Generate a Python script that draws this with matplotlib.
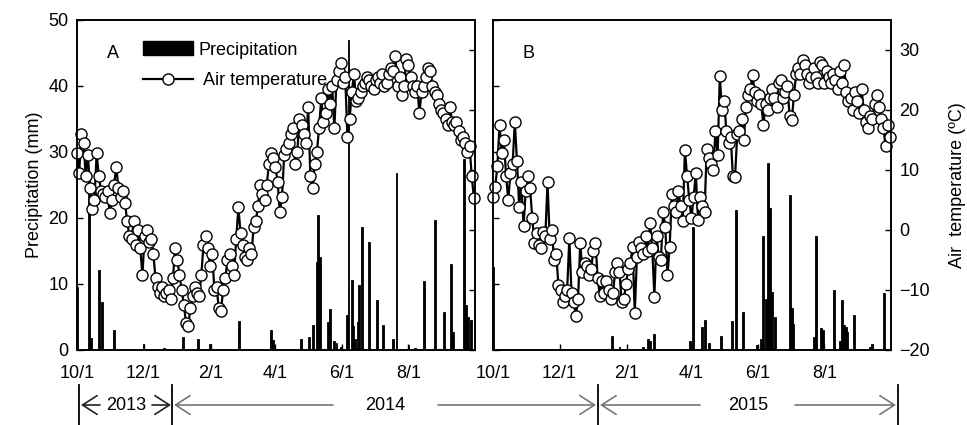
import numpy as np
import matplotlib
matplotlib.use('Agg')
import matplotlib.pyplot as plt
from matplotlib.lines import Line2D
from matplotlib.patches import Patch, FancyArrowPatch

plt.rcParams['font.family'] = ['Liberation Sans', 'DejaVu Sans']
plt.rcParams['font.size'] = 13

# Daily air temperature (every 2nd day from 1 Oct), degC
temp_a = [12.8, 9.5, 16.0, 14.5, 9.0, 12.5, 7.0, 3.5, 5.0, 12.8,
          9.0, 6.5, 6.0, 5.5, 6.5, 2.8, 5.0, 7.5, 10.5, 7.0,
          5.5, 6.5, 4.5, 1.5, -1.0, -1.5, 1.5, -2.5, 0.0, -3.0,
          -7.5, -1.0, 0.0, -2.0, -1.5, -4.0, -8.0, -9.5, -10.5, -9.5,
          -11.0, -10.5, -10.0, -11.5, -8.0, -3.0, -5.0, -7.5, -10.0, -12.5,
          -15.5, -16.0, -13.0, -11.0, -9.5, -10.5, -11.0, -7.5, -2.5, -1.0,
          -3.0, -6.0, -4.0, -10.0, -9.5, -13.0, -13.5, -10.0, -8.0, -5.0,
          -4.0, -6.0, -7.5, -1.5, 3.8, -0.5, -2.5, -4.5, -5.0, -3.0,
          -4.0, 0.5, 1.5, 4.0, 7.5, 6.0, 5.0, 7.5, 11.0, 12.8,
          12.0, 10.5, 8.0, 3.0, 5.5, 12.5, 13.5, 14.5, 16.0, 17.0,
          11.0, 13.0, 18.5, 17.5, 16.0, 14.5, 20.5, 9.0, 7.0, 11.0,
          13.0, 17.0, 22.0, 18.0, 19.5, 23.5, 21.0, 24.0, 17.0, 25.0,
          26.5, 27.8, 24.5, 25.5, 15.5, 18.5, 23.0, 26.0, 21.5, 22.0,
          23.0, 24.0, 24.5, 25.5, 25.0, 24.0, 23.5, 25.0, 25.5, 24.5,
          26.0, 24.0, 24.5, 26.0, 27.0, 26.5, 29.0, 24.0, 25.5, 22.5,
          24.0, 28.5, 27.5, 25.5, 24.0, 23.0, 24.0, 19.5, 23.0, 24.0,
          25.5, 27.0, 26.5, 24.0, 23.0, 22.5, 21.0, 20.0, 19.5, 18.5,
          17.5, 20.5, 18.0, 17.5, 18.0, 16.5, 15.0, 15.5, 14.5, 13.0,
          14.0, 9.0, 5.3]

temp_b = [5.5, 7.2, 10.6, 17.5, 12.8, 15.0, 9.0, 5.0, 9.5, 11.0,
          18.0, 11.5, 3.9, 8.0, 0.6, 6.5, 9.0, 7.0, 2.0, -2.2,
          -0.5, -2.5, -3.0, -0.3, -1.0, 8.0, -1.5, 0.0, -5.0, -4.0,
          -9.2, -10.0, -12.0, -11.0, -10.0, -1.4, -10.5, -12.0, -14.4, -11.5,
          -2.2, -7.0, -5.5, -6.0, -7.5, -6.5, -3.5, -2.2, -8.0, -11.0,
          -8.5, -10.5, -8.5, -10.0, -11.5, -10.5, -7.0, -5.5, -7.0, -12.0,
          -11.5, -9.0, -6.5, -5.5, -2.8, -13.9, -4.5, -2.0, -3.0, -4.0,
          -1.0, -3.5, 1.1, -3.0, -11.1, -1.0, -4.5, -5.0, 3.0, 0.5,
          -7.5, -2.8, 6.0, 4.0, 3.0, 6.5, 4.0, 1.5, 13.3, 9.0,
          5.0, 2.0, 5.5, 9.5, 1.7, 5.5, 4.0, 3.0, 13.5, 12.0,
          11.0, 10.0, 16.5, 12.5, 25.6, 20.0, 21.5, 16.5, 14.5, 15.5,
          9.0, 8.9, 16.0, 16.5, 18.5, 15.0, 20.5, 22.5, 23.5, 25.8,
          23.0, 21.5, 22.5, 21.0, 17.5, 21.0, 20.0, 22.0, 23.5, 22.0,
          20.5, 24.5, 25.0, 22.0, 23.0, 24.0, 19.0, 18.3, 22.5, 26.0,
          27.0, 26.0, 28.3, 27.5, 26.0, 24.5, 25.5, 27.0, 25.5, 24.5,
          28.0, 27.5, 24.5, 26.5, 25.5, 24.5, 26.0, 25.0, 23.5, 26.5,
          24.5, 27.5, 23.0, 21.5, 22.0, 20.0, 23.0, 21.5, 19.5, 23.5,
          20.0, 18.0, 17.0, 19.0, 18.5, 21.0, 22.5, 20.5, 18.5, 17.0,
          14.0, 17.5, 15.5]

# Precipitation events: day after 1 Oct, mm
precip_a_day = [0, 11, 13, 20, 23, 34, 61, 80, 97, 111,
                122, 149, 178, 180, 205, 213, 216, 220, 221, 223,
                230, 232, 236, 238, 242, 248, 249, 252, 253, 255,
                258, 259, 261, 268, 275, 281, 290, 293, 304, 310,
                318, 328, 337, 343, 345, 355, 357, 359, 361]
precip_a = [9.6, 27, 1.8, 12.1, 7.3, 3, 0.9, 0.3, 2, 1.6,
            0.9, 4.4, 3, 1.5, 1.6, 2, 3.8, 13.4, 20.5, 14.1,
            4.3, 6.2, 1.4, 1, 0.5, 5.3, 47, 10.6, 3.6, 1.6,
            4.3, 9.8, 18.7, 16.4, 7.6, 3.8, 1.6, 26.8, 0.8, 0.3,
            10.5, 19.7, 5.7, 13.1, 2.8, 29, 6.8, 5, 4.5]

precip_b_day = [0, 109, 116, 138, 142, 144, 148, 181, 183, 192,
                194, 198, 209, 219, 223, 229, 242, 246, 248, 250,
                252, 254, 256, 259, 272, 274, 275, 294, 296, 301,
                303, 313, 318, 320, 322, 324, 325, 331, 346, 348, 359]
precip_b = [12.6, 2.1, 0.4, 0.5, 1.6, 1.3, 2.4, 1.3, 18.7, 3.5,
            4.5, 1, 2.1, 4.4, 21.2, 5.8, 0.8, 1.6, 17.2, 7.8,
            28.3, 21.5, 8.8, 5, 23.5, 6.3, 4, 2, 17.2, 3.3,
            3, 9.1, 1.4, 7.6, 3.8, 3.5, 2.8, 5.3, 0.5, 0.9, 8.7]

month_ticks = [0, 61, 123, 182, 243, 304]
month_labels = ['10/1', '12/1', '2/1', '4/1', '6/1', '8/1']

W, H = 967, 425
fig = plt.figure(figsize=(W / 100, H / 100), dpi=100)


def px(x, y):
    return x / W, 1 - y / H


def panel(left, temp, pday, prec, letter, first):
    ax = fig.add_axes([left / W, 1 - 350 / H, 398 / W, 330 / H])
    ax.bar(pday, prec, width=1.8, color='black', edgecolor='black',
           linewidth=0.6, align='center')
    ax.set_xlim(0, 365)
    ax.set_ylim(0, 50)
    ax.set_yticks(range(0, 51, 10))
    ax.set_xticks(month_ticks)
    ax.set_xticklabels(month_labels)
    ax.tick_params(direction='in', length=4, width=1, pad=6)
    ax.tick_params(axis='x', pad=11)
    ax2 = ax.twinx()
    days = np.arange(len(temp)) * 2
    ax2.plot(days, temp, '-o', color='black', lw=1.6, ms=8.0, mfc='white',
             mec='black', mew=1.0, clip_on=False)
    ax2.set_ylim(-20, 35)
    ax2.set_yticks(range(-20, 31, 10))
    ax2.tick_params(direction='in', length=4, width=1, pad=6)
    for a in (ax, ax2):
        for s in a.spines.values():
            s.set_linewidth(1.2)
    ax2.text(0.09, 0.9, letter, transform=ax.transAxes, fontsize=13,
             ha='center', va='center')
    if first:
        ax.set_ylabel('Precipitation (mm)', labelpad=4)
        ax2.set_yticklabels([])
        handles = [Patch(facecolor='black', edgecolor='black'),
                   Line2D([], [], color='black', lw=1.6, marker='o', ms=8.0,
                          mfc='white', mec='black')]
        ax2.legend(handles, ['Precipitation', ' Air temperature'],
                   loc='upper left', bbox_to_anchor=(0.165, 0.935),
                   frameon=False, handlelength=2.8, handleheight=0.8,
                   handletextpad=0.3, labelspacing=0.75, borderpad=0,
                   borderaxespad=0, fontsize=13)
    else:
        ax.set_yticklabels([])
        ax2.set_ylabel('Air  temperature (ºC)', labelpad=14)
    return ax, ax2


panel(77, temp_a, precip_a_day, precip_a, 'A', True)
panel(493, temp_b, precip_b_day, precip_b, 'B', False)

# year bands below the axes
y_arrow = 405
for xv in [79, 172, 598, 898]:
    fig.add_artist(Line2D([xv / W, xv / W], [1 - 385 / H, 0], color='black',
                          lw=1.3, transform=fig.transFigure))

segments = [(100, 81, '#222222'), (152, 171, '#222222'),
            (333, 174, '#777777'), (438, 596, '#777777'),
            (700, 600, '#777777'), (795, 896, '#777777')]
for x0, x1, c in segments:
    fig.add_artist(FancyArrowPatch(
        px(x0, y_arrow), px(x1, y_arrow), transform=fig.transFigure,
        arrowstyle='->,head_length=7,head_width=4.5', color=c, lw=1.2,
        shrinkA=0, shrinkB=0, mutation_scale=1.5))

for label, xc in [('2013', 126), ('2014', 385), ('2015', 748)]:
    fig.text(xc / W, 1 - y_arrow / H, label, ha='center', va='center',
             fontsize=13)

fig.savefig('out.png', dpi=100)
